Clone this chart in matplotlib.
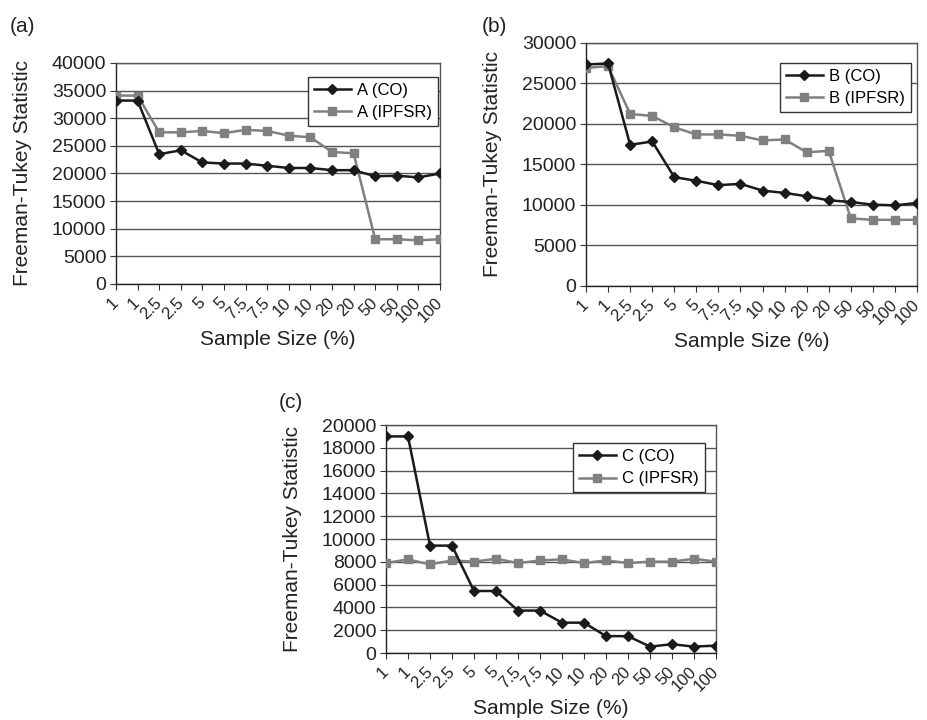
import numpy as np
import matplotlib
matplotlib.use("Agg")
import matplotlib.pyplot as plt
import matplotlib.transforms as mtransforms

plt.rcParams['font.family'] = ['Liberation Sans', 'DejaVu Sans']

sample_sizes = ['1', '1', '2.5', '2.5', '5', '5', '7.5', '7.5',
                '10', '10', '20', '20', '50', '50', '100', '100']

a_co = [33200, 33200, 23500, 24200, 22000, 21800, 21800, 21400,
        21000, 21000, 20600, 20600, 19500, 19600, 19300, 20000]
a_ipfsr = [34100, 34100, 27450, 27450, 27700, 27300, 27900, 27700,
           26850, 26550, 23900, 23650, 8100, 8100, 7900, 8100]

b_co = [27350, 27470, 17430, 17840, 13440, 12990, 12450, 12610,
        11780, 11490, 11080, 10580, 10370, 10040, 9960, 10250]
b_ipfsr = [26930, 27140, 21240, 21000, 19590, 18710, 18710, 18550,
           17970, 18090, 16510, 16680, 8340, 8170, 8170, 8170]

c_co = [19000, 19000, 9420, 9420, 5440, 5440, 3720, 3720,
        2660, 2660, 1480, 1480, 560, 770, 560, 650]
c_ipfsr = [7890, 8210, 7770, 8120, 8010, 8270, 7890, 8120,
           8210, 7890, 8120, 7890, 8010, 8010, 8270, 8010]

W, H = 927, 720


def add_axes(fig, left, top, right, bottom):
    return fig.add_axes([left / W, 1 - bottom / H, (right - left) / W, (bottom - top) / H])


def draw_panel(fig, ax, co, ipfsr, name, ymax, ystep, legend_box):
    x = np.arange(len(sample_sizes))
    ax.plot(x, co, color='#1a1a1a', marker='D', markersize=5.5, lw=1.8,
            label=name + ' (CO)', zorder=4)
    ax.plot(x, ipfsr, color='#808080', marker='s', markersize=5.5, lw=1.8,
            label=name + ' (IPFSR)', zorder=3)
    ax.set_xlim(0, len(x) - 1)
    ax.set_ylim(0, ymax)
    ax.set_yticks(np.arange(0, ymax + 1, ystep))
    ax.set_xticks(x)
    ax.set_xticklabels(sample_sizes, rotation=45, ha='right', va='center',
                       rotation_mode='anchor')
    # nudge the rotated labels a little to the right, like the original
    shift = mtransforms.ScaledTranslation(0.04, 0, fig.dpi_scale_trans)
    for lab in ax.get_xticklabels():
        lab.set_transform(lab.get_transform() + shift)
    ax.tick_params(axis='both', direction='out', length=4,
                   color='#333333', labelcolor='#222222')
    ax.tick_params(axis='y', labelsize=14, pad=3)
    ax.tick_params(axis='x', labelsize=12, pad=8)
    ax.grid(axis='y', color='#555555', lw=1)
    ax.set_axisbelow(True)
    for s in ax.spines.values():
        s.set_color('#555555')
        s.set_linewidth(1)
    ax.spines['left'].set_color('#222222')
    ax.spines['bottom'].set_color('#222222')
    ax.set_xlabel('Sample Size (%)', fontsize=15, color='#222222', labelpad=3)
    ax.set_ylabel('Freeman-Tukey Statistic', fontsize=15, color='#222222', labelpad=14)
    leg = ax.legend(loc='upper left', bbox_to_anchor=legend_box, fontsize=12,
                    frameon=True, fancybox=False, edgecolor='#333333',
                    handlelength=2.2, handletextpad=0.4, borderpad=0.35,
                    labelspacing=0.45, borderaxespad=0)
    leg.get_frame().set_linewidth(1)
    leg.get_frame().set_facecolor('white')
    leg.get_frame().set_alpha(1)


fig = plt.figure(figsize=(W / 100, H / 100), dpi=100)

ax_a = add_axes(fig, 116, 63, 440, 284)
draw_panel(fig, ax_a, a_co, a_ipfsr, 'A', 40000, 5000, ((308 - 116) / 324, (284 - 77) / 221))
ax_b = add_axes(fig, 586, 43, 917, 286)
draw_panel(fig, ax_b, b_co, b_ipfsr, 'B', 30000, 5000, ((780 - 586) / 331, (286 - 63) / 243))
ax_c = add_axes(fig, 386, 425, 716, 653)
draw_panel(fig, ax_c, c_co, c_ipfsr, 'C', 20000, 2000, ((573 - 386) / 330, (653 - 443) / 228))

fig.text(10 / W, 1 - 27 / H, '(a)', fontsize=15, color='#222222', va='center')
fig.text(482 / W, 1 - 27 / H, '(b)', fontsize=15, color='#222222', va='center')
fig.text(279 / W, 1 - 402 / H, '(c)', fontsize=15, color='#222222', va='center')

fig.savefig('out.png', dpi=100)
